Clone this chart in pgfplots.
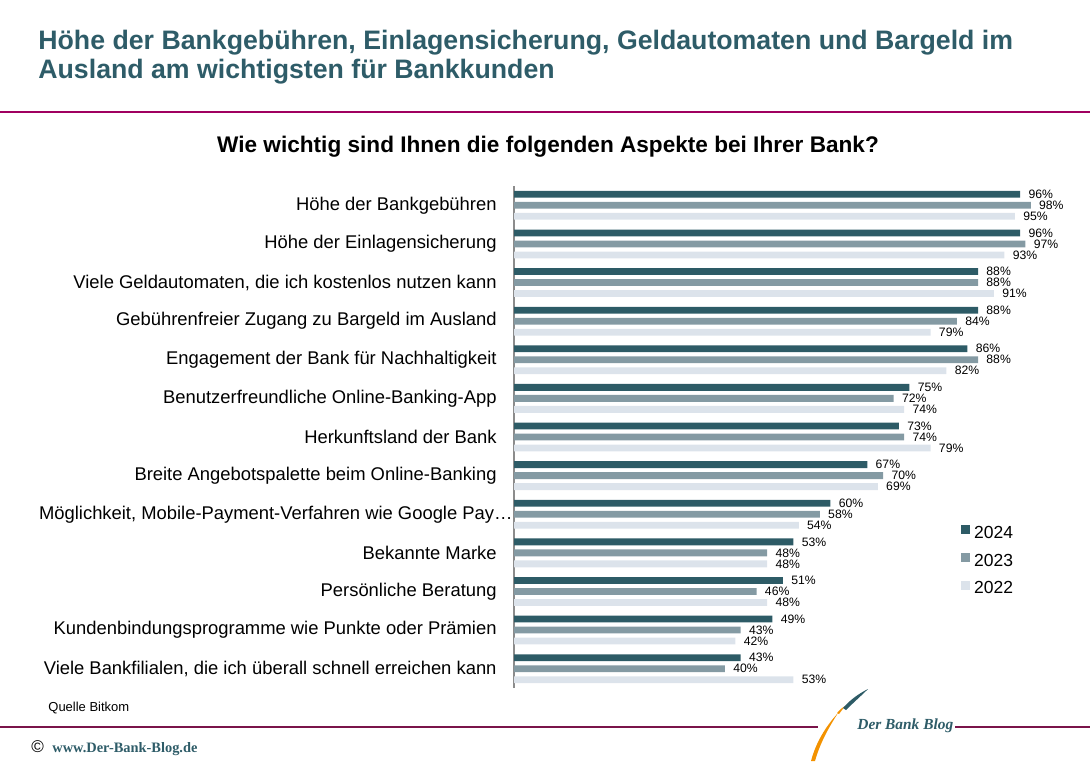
\documentclass[border=0pt]{standalone}
\usepackage{fontspec}
\setmainfont{Liberation Sans}
\newfontfamily\serifbold{Liberation Serif}
\usepackage{pgfplots}
\pgfplotsset{compat=1.18}

\definecolor{c2024}{RGB}{45,91,102}
\definecolor{c2023}{RGB}{132,154,163}
\definecolor{c2022}{RGB}{220,227,235}
\definecolor{titlecol}{RGB}{46,92,104}
\definecolor{rulecol}{RGB}{160,0,96}
\definecolor{footcol}{RGB}{122,20,74}
\definecolor{logoorange}{RGB}{243,146,0}

\begin{document}
\begin{tikzpicture}
\begin{scope}[x=0.5pt,y=-0.5pt]
\useasboundingbox (0,0) rectangle (1090,761);

% header
\node[anchor=base west, inner sep=0pt, text=titlecol, font=\fontsize{13.35}{15}\selectfont\bfseries]
  at (38,49) {Höhe der Bankgebühren, Einlagensicherung, Geldautomaten und Bargeld im};
\node[anchor=base west, inner sep=0pt, text=titlecol, font=\fontsize{13.35}{15}\selectfont\bfseries]
  at (38,78) {Ausland am wichtigsten für Bankkunden};
\draw[rulecol, line width=0.75pt] (0,112) -- (1090,112);
\node[anchor=base, inner sep=0pt, font=\fontsize{11.3}{13}\selectfont\bfseries]
  at (548,152) {Wie wichtig sind Ihnen die folgenden Aspekte bei Ihrer Bank?};

% footer
\node[anchor=west, inner sep=0pt, font=\fontsize{6.5}{8}\selectfont] at (48,708) {Quelle Bitkom};
\draw[footcol, line width=0.6pt] (0,727) -- (818,727);
\draw[footcol, line width=0.6pt] (955,727) -- (1090,727);
\node[anchor=base west, inner sep=0pt, font=\fontsize{8.5}{10}\selectfont] at (31,752) {©};
\node[anchor=base west, inner sep=0pt, text=titlecol, font=\serifbold\fontsize{7.2}{9}\selectfont\bfseries] at (52,752) {www.Der-Bank-Blog.de};
% logo swoosh
\fill[logoorange] (811,761) .. controls (816,742) and (826,726) .. (838,713)
  .. controls (829,727) and (820,743) .. (815,761) -- cycle;
\fill[logoorange] (837,713) .. controls (839,710) and (842,708) .. (845,706)
  .. controls (843,709) and (841,711) .. (839,714) -- cycle;
\fill[c2024] (843,708) .. controls (850,700) and (858,694) .. (868,689)
  .. controls (862,695) and (853,703) .. (846,710) -- cycle;
\node[anchor=west, inner sep=0pt, text=titlecol, font=\serifbold\fontsize{7.7}{9}\selectfont\bfseries\itshape] at (857,726) {Der Bank Blog};
\end{scope}

\begin{axis}[
    at={(257pt,-344pt)}, anchor=south west,
    width=263.65pt, height=251pt, scale only axis,
    xmin=0, xmax=100, ymin=-0.5, ymax=12.5,
    xbar, bar width=3.4pt,
    clip=false,
    axis x line=none,
    axis y line=left,
    y axis line style={-, draw=black!45, line width=0.7pt},
    major tick length=0pt,
    ytick={0,...,12},
    yticklabels={
      {Viele Bankfilialen, die ich überall schnell erreichen kann},
      {Kundenbindungsprogramme wie Punkte oder Prämien},
      {Persönliche Beratung},
      {Bekannte Marke},
      {Möglichkeit, Mobile-Payment-Verfahren wie Google Pay…\hspace*{-8pt}},
      {Breite Angebotspalette beim Online-Banking},
      {Herkunftsland der Bank},
      {Benutzerfreundliche Online-Banking-App},
      {Engagement der Bank für Nachhaltigkeit},
      {Gebührenfreier Zugang zu Bargeld im Ausland},
      {Viele Geldautomaten, die ich kostenlos nutzen kann},
      {Höhe der Einlagensicherung},
      {Höhe der Bankgebühren}},
    yticklabel style={font=\fontsize{9.2}{11}\selectfont, inner sep=0pt, xshift=-8.5pt},
    /pgf/number format/assume math mode=true,
    nodes near coords={\pgfmathprintnumber{\pgfplotspointmeta}\%},
    every node near coord/.append style={font=\fontsize{6.1}{7}\selectfont, inner sep=0pt, xshift=4pt, text=black},
    legend image code/.code={\fill[#1, draw=none] (0pt,-1.1pt) rectangle (4.6pt,3.5pt);},
    legend style={at={(0.8467,0.3257)}, anchor=north west, draw=none, fill=none,
      inner sep=0pt, row sep=7.25pt, column sep=2pt, font=\fontsize{8.75}{10}\selectfont,
      nodes={inner sep=0pt, text height=6.3pt, text depth=0pt}},
    legend cell align=left,
]
\addplot[fill=c2024, draw=none, bar shift=5.5pt] coordinates {
  (96,12) (96,11) (88,10) (88,9) (86,8) (75,7) (73,6) (67,5) (60,4) (53,3) (51,2) (49,1) (43,0)};
\addplot[fill=c2023, draw=none, bar shift=0pt] coordinates {
  (98,12) (97,11) (88,10) (84,9) (88,8) (72,7) (74,6) (70,5) (58,4) (48,3) (46,2) (43,1) (40,0)};
\addplot[fill=c2022, draw=none, bar shift=-5.5pt] coordinates {
  (95,12) (93,11) (91,10) (79,9) (82,8) (74,7) (79,6) (69,5) (54,4) (48,3) (48,2) (42,1) (53,0)};
\legend{2024,2023,2022}
\end{axis}
\end{tikzpicture}
\end{document}
